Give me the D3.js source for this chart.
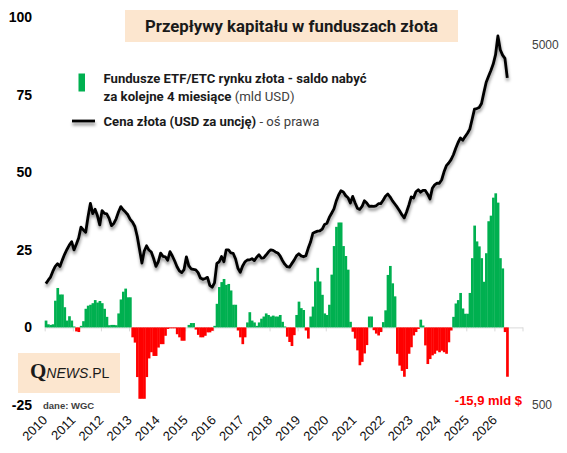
<!DOCTYPE html>
<html lang="pl">
<head>
<meta charset="utf-8">
<title>Przepływy kapitału w funduszach złota</title>
<script src="https://cdn.jsdelivr.net/npm/d3@7.9.0/dist/d3.min.js"></script>
<style>
    html, body { margin: 0; padding: 0; background: #fff; }
    svg { display: block; font-family: 'Liberation Sans', Arial, sans-serif; }
</style>
</head>
<body>
<svg id="chart" width="567" height="453"></svg>
<script>
// tick labels of the time axis (one per year, monthly data from Jan 2010)
var years = ['2010', '2011', '2012', '2013', '2014', '2015', '2016', '2017', '2018',
    '2019', '2020', '2021', '2022', '2023', '2024', '2025', '2026']

var leftTicks = [-25, 0, 25, 50, 75, 100]
var rightTicks = [500, 5000]

// ETF/ETC flows, sum over the next 4 months (bn USD), one value per month
var flows = [
    2.2, 1.0, 0.8, 1.0, 8.6, 12.7, 10.6, 10.6, 6.5, 2.2, 3.6, 2.2,
    0.3, -1.3, -1.5, 0.5, 2.0, 6.0, 7.0, 7.3, 7.8, 8.8, 8.0, 8.5,
    7.8, 6.0, 3.4, 0.7, 0.8, 0.8, 0.7, 4.5, 9.0, 11.5, 12.5, 9.7,
    9.7, -3.2, -4.9, -16, -23, -23, -23, -16, -10, -8, -9.2, -9.2,
    -6.5, -5.4, -5.4, -2.7, -0.5, -0.3, -0.3, -0.3, -2.2, -3.2, -4.3, -4.3,
    0, 0.8, 1.4, 1.4, -0.7, -2.4, -3.2, -3.2, -2.7, -1.6, -1.6, -1.1,
    0.5, 7.6, 13, 14.6, 15.6, 13.7, 14, 11.9, 7.3, 7.3, -1, -3.2,
    -5.4, -3.2, 1.6, 4.9, 2.2, 1.6, 0.5, 1.6, 2.8, 3.5, 4.5, 4,
    3.5, 3.8, 3.5, 3.5, 4, 1.8, 0.3, -3, -4.7, -6, -2.5, 4,
    8.3, 6.2, 5.6, -1, -3.6, 3.5, 6.7, 14.8, 19.2, 14.8, 10.5, 4.5,
    4, 7.3, 17, 26.2, 32.4, 33.8, 33.8, 26.2, 23, 18.6, 1.8, -1.4,
    -3.6, -7.4, -12.2, -11.1, -8.4, -5.7, 3.5, 3.5, -0.9, -2, -2.6, -1.5,
    1.7, 5.5, 16.9, 19.8, 14.2, 10, -8.5, -12.3, -14, -15.9, -13.4, -8.5,
    -6.4, -2.6, -1.5, -0.5, 2.5, 0.6, -5.8, -11.8, -10.2, -9, -8.5, -7.5,
    -8, -7.5, -8, -8.5, -4.8, -1, 3.4, 7.7, 8.8, 11.1, 6.1, 4.4,
    4.4, 11.1, 22.3, 32.8, 27.7, 26.1, 22.3, 14.7, 23.9, 34.2, 36, 41.8,
    43.2, 40.2, 22.3, 19, -1.5, -15.9
]

// gold price (USD/oz), one value per month, right log axis
var goldPrice = [
    1087, 1111, 1133, 1177, 1213, 1234, 1213, 1263, 1311, 1352, 1390, 1421,
    1348, 1398, 1455, 1560, 1532, 1509, 1667, 1815, 1700, 1748, 1679, 1582,
    1734, 1702, 1697, 1650, 1575, 1597, 1645, 1718, 1778, 1742, 1717, 1688,
    1640, 1610, 1566, 1471, 1351, 1240, 1339, 1384, 1347, 1330, 1276, 1214,
    1250, 1321, 1294, 1290, 1262, 1334, 1297, 1256, 1211, 1179, 1166, 1189,
    1290, 1219, 1195, 1191, 1187, 1166, 1126, 1117, 1123, 1131, 1074, 1062,
    1092, 1237, 1250, 1293, 1250, 1349, 1349, 1322, 1318, 1272, 1199, 1168,
    1216, 1249, 1264, 1265, 1275, 1259, 1286, 1307, 1280, 1282, 1305, 1330,
    1349, 1344, 1331, 1322, 1297, 1260, 1231, 1211, 1207, 1235, 1263, 1298,
    1316, 1298, 1290, 1299, 1362, 1418, 1500, 1511, 1520, 1524, 1540, 1587,
    1598, 1660, 1705, 1753, 1845, 1915, 1968, 1953, 1908, 1883, 1820, 1899,
    1823, 1759, 1747, 1780, 1847, 1820, 1782, 1785, 1782, 1788, 1812, 1813,
    1852, 1900, 1928, 1891, 1845, 1808, 1772, 1732, 1689, 1655, 1719, 1797,
    1892, 1879, 1956, 1981, 1950, 1973, 1972, 1926, 1868, 1999, 2044, 2065,
    2065, 2112, 2222, 2311, 2351, 2402, 2478, 2584, 2680, 2760, 2720, 2783,
    2843, 2920, 3110, 3317, 3330, 3352, 3440, 3688, 3940, 4094, 4250, 4425,
    4700, 5300, 4850, 4685, 4590, 4050
]

;(function () {
    var PEACH = '#fce6cf'
    var GREEN = '#00b050'
    var RED = '#ff0000'
    var COND = "Roboto, 'Liberation Sans', Arial, sans-serif"

    var svg = d3.select('#chart')

    // soft grey shadow under the price line (user space, so it also works on the flat legend line)
    var shadow = svg.append('defs').append('filter').attr('id', 'shadow')
        .attr('filterUnits', 'userSpaceOnUse')
        .attr('x', 0).attr('y', 0).attr('width', 567).attr('height', 453)
    shadow.append('feDropShadow')
        .attr('dx', 0.5).attr('dy', 3).attr('stdDeviation', 1.5)
        .attr('flood-color', '#000').attr('flood-opacity', 0.42)

    var nMonths = years.length * 12
    var x = d3.scaleLinear().domain([0, nMonths]).range([44.7, 522.5])
    var yL = d3.scaleLinear().domain([-25, 100]).range([405, 17])
    var yR = d3.scaleLog().domain([500, 5000]).range([405, 45])

    // title box
    svg.append('rect').attr('x', 125).attr('y', 10).attr('width', 333).attr('height', 32).attr('fill', PEACH)
    svg.append('text')
        .attr('x', 291.5).attr('y', 31.5)
        .attr('text-anchor', 'middle')
        .attr('font-family', COND).attr('font-weight', 'bold').attr('font-size', 16)
        .attr('fill', '#1a1a1a')
        .attr('textLength', 293).attr('lengthAdjust', 'spacingAndGlyphs')
        .text('Przepływy kapitału w funduszach złota')

    // left axis labels
    svg.append('g').selectAll('text')
        .data(leftTicks)
        .enter()
        .append('text')
        .attr('x', 32)
        .attr('y', function (d) { return yL(d) })
        .attr('dy', '0.36em')
        .attr('text-anchor', 'end')
        .attr('font-size', 14).attr('font-weight', 'bold').attr('fill', '#000')
        .text(function (d) { return d })

    // right axis labels (log scale)
    svg.append('g').selectAll('text')
        .data(rightTicks)
        .enter()
        .append('text')
        .attr('x', 532)
        .attr('y', function (d) { return yR(d) })
        .attr('dy', '0.36em')
        .attr('font-size', 12).attr('fill', '#404040')
        .text(function (d) { return d })

    // zero line with yearly ticks
    var tickMonths = d3.range(0, nMonths + 1, 12)
    var axisG = svg.append('g')
        .attr('transform', 'translate(0,' + yL(0) + ')')
        .call(d3.axisBottom(x).tickValues(tickMonths).tickSize(4).tickSizeOuter(0).tickFormat(''))
    axisG.select('.domain').attr('stroke', '#d9d9d9')
    axisG.selectAll('.tick line').attr('stroke', '#d9d9d9')

    // year labels, under the plot
    var labG = svg.append('g')
        .attr('transform', 'translate(0,405)')
        .call(d3.axisBottom(x).tickValues(tickMonths.slice(0, years.length)).tickSize(0)
            .tickFormat(function (d) { return years[d / 12] }))
    labG.select('.domain').remove()
    labG.selectAll('text')
        .attr('x', 0).attr('y', 0).attr('dy', 0)
        .attr('text-anchor', 'end')
        .attr('transform', 'translate(3,16) rotate(-45)')
        .attr('font-family', "'Liberation Sans', Arial, sans-serif")
        .attr('font-size', 13).attr('fill', '#111')

    // flow bars
    svg.append('g').selectAll('rect')
        .data(flows)
        .enter()
        .append('rect')
        .attr('x', function (d, i) { return x(i) })
        .attr('width', function (d, i) { return x(i + 1) - x(i) + 0.35 })
        .attr('y', function (d) { return Math.min(yL(d), yL(0)) })
        .attr('height', function (d) { return Math.abs(yL(d) - yL(0)) })
        .attr('fill', function (d) { return d < 0 ? RED : GREEN })

    // gold price line
    var line = d3.line()
        .x(function (d, i) { return x(i + 0.5) })
        .y(function (d) { return yR(d) })
    svg.append('path')
        .datum(goldPrice)
        .attr('d', line)
        .attr('fill', 'none')
        .attr('stroke', '#000')
        .attr('stroke-width', 2.8)
        .attr('stroke-linejoin', 'round')
        .attr('filter', 'url(#shadow)')

    // legend
    var leg = svg.append('g').attr('font-family', COND).attr('font-size', 13).attr('fill', '#1a1a1a')
    leg.append('rect').attr('x', 78.5).attr('y', 73.5).attr('width', 6.5).attr('height', 18).attr('fill', GREEN)
    leg.append('text').attr('x', 103.5).attr('y', 83)
        .attr('font-weight', 'bold')
        .attr('textLength', 263).attr('lengthAdjust', 'spacingAndGlyphs')
        .text('Fundusze ETF/ETC rynku złota - saldo nabyć')
    var l2 = leg.append('text').attr('x', 103.5).attr('y', 100.5)
        .attr('textLength', 191).attr('lengthAdjust', 'spacingAndGlyphs')
    l2.append('tspan').attr('font-weight', 'bold').text('za kolejne 4 miesiące')
    l2.append('tspan').attr('fill', '#404040').text(' (mld USD)')

    leg.append('line')
        .attr('x1', 72).attr('x2', 95).attr('y1', 121).attr('y2', 121)
        .attr('stroke', '#000').attr('stroke-width', 2.8)
        .attr('filter', 'url(#shadow)')
    var l3 = leg.append('text').attr('x', 103.5).attr('y', 126)
        .attr('textLength', 216).attr('lengthAdjust', 'spacingAndGlyphs')
    l3.append('tspan').attr('font-weight', 'bold').text('Cena złota (USD za uncję)')
    l3.append('tspan').attr('fill', '#404040').text(' - oś prawa')

    // logo
    svg.append('rect').attr('x', 18).attr('y', 353).attr('width', 102).attr('height', 40).attr('fill', PEACH)
    var logo = svg.append('text').attr('x', 30).attr('y', 378).attr('fill', '#1a1a1a')
    logo.append('tspan').attr('font-family', "'Liberation Serif', 'DejaVu Serif', serif")
        .attr('font-weight', 'bold').attr('font-size', 21).text('Q')
    logo.append('tspan').attr('font-style', 'italic').attr('font-size', 14).text('NEWS')
    logo.append('tspan').attr('font-size', 14).text('.PL')

    svg.append('text').attr('x', 43).attr('y', 408.5)
        .attr('font-size', 9.5).attr('font-weight', 'bold').attr('fill', '#404040')
        .text('dane: WGC')

    // annotation for the last bar
    var last = flows[flows.length - 1]
    svg.append('text').attr('x', 522).attr('y', 404.5)
        .attr('text-anchor', 'end')
        .attr('font-size', 13).attr('font-weight', 'bold').attr('fill', RED)
        .text(String(last).replace('.', ',') + ' mld $')
})()
</script>
</body>
</html>
